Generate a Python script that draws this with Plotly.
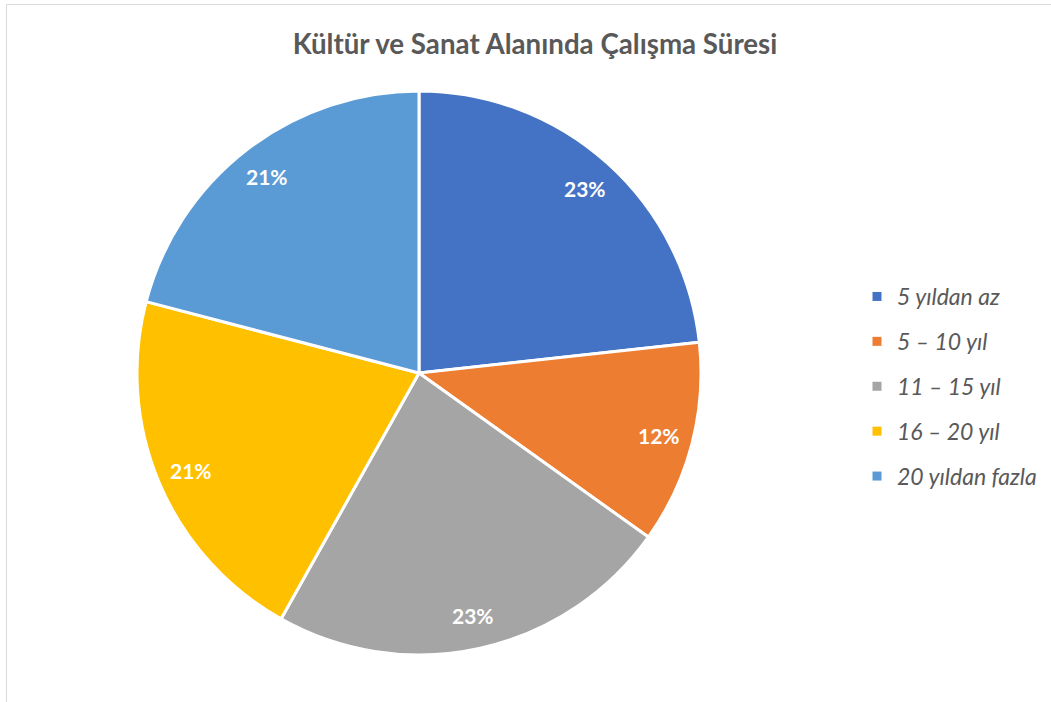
import math
import plotly.graph_objects as go

labels = ["5 yıldan az", "5 – 10 yıl", "11 – 15 yıl", "16 – 20 yıl", "20 yıldan fazla"]
values = [20, 10, 20, 18, 18]
colors = ["#4472C4", "#ED7D31", "#A5A5A5", "#FFC000", "#5B9BD5"]

W, H = 1051, 702
cx, cy, R = 419, 373, 282
label_r = 0.88

fig = go.Figure()
fig.add_trace(go.Pie(
    labels=labels, values=values, sort=False, direction="clockwise", rotation=0,
    marker=dict(colors=colors, line=dict(color="white", width=3)),
    textinfo="none", showlegend=False, hoverinfo="label+percent",
    domain=dict(x=[(cx - R) / W, (cx + R) / W], y=[(H - cy - R) / H, (H - cy + R) / H]),
))
for i, (lab, col) in enumerate(zip(labels, colors)):
    fig.add_trace(go.Scatter(
        x=[None], y=[None], mode="markers", name=lab, legendgroup=f"g{i}",
        marker=dict(symbol="square", size=9, color=col), showlegend=True,
    ))

# percentage labels placed inside slices, derived from the values
total = sum(values)
annotations = []
cum = 0
for v in values:
    mid = (cum + v / 2) / total * 2 * math.pi
    cum += v
    px = cx + label_r * R * math.sin(mid)
    py = cy - label_r * R * math.cos(mid)
    annotations.append(dict(
        x=px / W, y=1 - py / H, xref="paper", yref="paper", showarrow=False,
        xanchor="center", yanchor="middle",
        text=f"<b>{round(100 * v / total)}%</b>",
        font=dict(family="Lato", size=21, color="white"),
    ))

fig.update_layout(
    width=W, height=H,
    margin=dict(l=0, r=0, t=0, b=0),
    paper_bgcolor="white", plot_bgcolor="white",
    title=dict(text="<b>Kültür ve Sanat Alanında Çalışma Süresi</b>", x=535 / W, xanchor="center",
               y=1 - 44.5 / H, yanchor="middle",
               font=dict(family="Lato", size=27.7, color="#595959")),
    xaxis=dict(visible=False), yaxis=dict(visible=False),
    legend=dict(x=857 / W, y=1 - 275 / H, xanchor="left", yanchor="top",
                font=dict(family="Lato", size=23, color="#595959", style="italic"),
                tracegroupgap=12, itemwidth=30, bgcolor="rgba(0,0,0,0)"),
    annotations=annotations,
    shapes=[
        dict(type="line", xref="paper", yref="paper", x0=6.5 / W, x1=1, y0=1 - 4.5 / H, y1=1 - 4.5 / H,
             line=dict(color="#D9D9D9", width=1)),
        dict(type="line", xref="paper", yref="paper", x0=6.5 / W, x1=6.5 / W, y0=0, y1=1 - 4.5 / H,
             line=dict(color="#D9D9D9", width=1)),
    ],
)
fig.write_html("out.html")
